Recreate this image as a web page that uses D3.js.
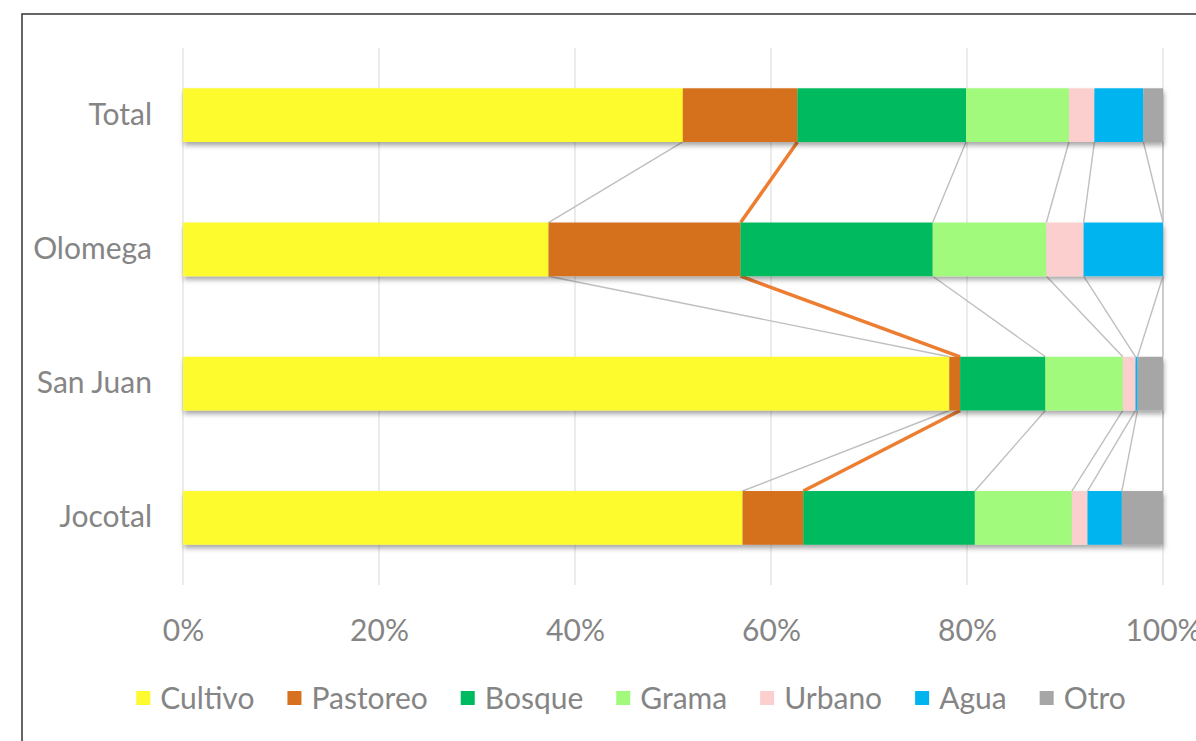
<!DOCTYPE html>
<html>
<head>
<meta charset="utf-8">
<script src="https://cdn.jsdelivr.net/npm/d3@7"></script>
<style>
  html, body { margin: 0; padding: 0; background: #fff; }
  svg { display: block; }
  text { font-family: Lato, "Open Sans", sans-serif; fill: #858585; }
</style>
</head>
<body>
<svg id="chart" width="1196" height="741"></svg>
<script>
// ---- data (percent of area) ----
const categories = ["Total", "Olomega", "San Juan", "Jocotal"];
const seriesNames = ["Cultivo", "Pastoreo", "Bosque", "Grama", "Urbano", "Agua", "Otro"];
const cultivo  = [51.0, 37.3, 78.2, 57.1];
const pastoreo = [11.7, 19.6, 1.1, 6.2];
const bosque   = [17.2, 19.6, 8.7, 17.5];
const grama    = [10.5, 11.6, 7.9, 9.9];
const urbano   = [2.6, 3.8, 1.3, 1.6];
const agua     = [5.0, 8.1, 0.2, 3.5];
const otro     = [2.0, 0.0, 2.6, 4.2];
const xTicks   = [0, 20, 40, 60, 80, 100];
const seriesColors = ["#FDFB2F", "#D5711F", "#00BA5F", "#A2FA7C", "#FCCFCF", "#00B4F0", "#A6A6A6"];

const seriesValues = [cultivo, pastoreo, bosque, grama, urbano, agua, otro];
const rows = categories.map((c, i) => {
  const r = { category: c };
  seriesNames.forEach((s, k) => r[s] = seriesValues[k][i]);
  return r;
});
const stacked = d3.stack().keys(seriesNames)(rows);
const color = d3.scaleOrdinal().domain(seriesNames).range(seriesColors);

const svg = d3.select("#chart");
const FS = "30px";

// frame
svg.append("rect").attr("x", 22).attr("y", 14).attr("width", 1200).attr("height", 760)
  .attr("fill", "none").attr("stroke", "#404040").attr("stroke-width", 1.6);

const x = d3.scaleLinear().domain([0, 100]).range([183, 1163]);
const y = d3.scaleBand().domain(categories).range([48, 585]).paddingInner(0.6).paddingOuter(0.3);
const bw = y.bandwidth();

// shadow filter
const defs = svg.append("defs");
const f = defs.append("filter").attr("id", "shadow").attr("x", "-5%").attr("y", "-30%").attr("width", "110%").attr("height", "170%");
f.append("feDropShadow").attr("dx", 1).attr("dy", 3.5).attr("stdDeviation", 2.5)
  .attr("flood-color", "#000").attr("flood-opacity", 0.35);

// gridlines
svg.append("g").selectAll("line").data(xTicks).join("line")
  .attr("x1", d => x(d)).attr("x2", d => x(d))
  .attr("y1", 48).attr("y2", 585)
  .attr("stroke", "#D9D9D9").attr("stroke-width", 1);

// series lines (connect segment ends between consecutive bars)
const lineG = svg.append("g");
stacked.forEach(layer => {
  const isP = layer.key === "Pastoreo";
  for (let i = 0; i < categories.length - 1; i++) {
    lineG.append("line")
      .attr("x1", x(layer[i][1])).attr("y1", y(categories[i]) + bw)
      .attr("x2", x(layer[i + 1][1])).attr("y2", y(categories[i + 1]))
      .attr("stroke", isP ? "#ED7D31" : "#BFBFBF")
      .attr("stroke-width", isP ? 3.5 : 1.4);
  }
});

// bars
const barG = svg.append("g").selectAll("g").data(categories).join("g").attr("filter", "url(#shadow)");
barG.each(function(cat, i) {
  d3.select(this).selectAll("rect").data(stacked.map(l => ({ key: l.key, v: l[i] }))).join("rect")
    .attr("x", d => x(d.v[0]))
    .attr("width", d => Math.max(0, x(d.v[1]) - x(d.v[0])))
    .attr("y", y(cat)).attr("height", bw)
    .attr("fill", d => color(d.key));
});

// category axis
const yAxis = svg.append("g").attr("transform", "translate(152,0)")
  .call(d3.axisLeft(y).tickSize(0).tickPadding(0));
yAxis.select(".domain").remove();
yAxis.selectAll("text").style("font-size", FS).style("font-family", "Lato, sans-serif").attr("fill", "#858585");

// value axis
const xAxis = svg.append("g").attr("transform", "translate(0,630)")
  .call(d3.axisBottom(x).tickValues(xTicks).tickFormat(d => d + "%").tickSize(0).tickPadding(0));
xAxis.select(".domain").remove();
xAxis.selectAll("text").attr("y", 0).attr("dy", "0.35em")
  .style("font-size", FS).style("font-family", "Lato, sans-serif").attr("fill", "#858585");

// legend
const legend = svg.append("g").attr("transform", "translate(0,698)");
const items = legend.selectAll("g").data(seriesNames).join("g");
items.append("rect").attr("width", 14).attr("height", 14).attr("y", -7).attr("fill", d => color(d));
items.append("text").attr("x", 24).attr("dy", "0.35em").text(d => d)
  .style("font-size", FS).attr("fill", "#858585");
const widths = [];
items.each(function() { widths.push(24 + d3.select(this).select("text").node().getComputedTextLength()); });
const gap = 33;
const total = d3.sum(widths) + gap * (widths.length - 1);
let cx = 631 - total / 2;
items.attr("transform", (d, i) => { const t = `translate(${cx},0)`; cx += widths[i] + gap; return t; });
</script>
</body>
</html>
